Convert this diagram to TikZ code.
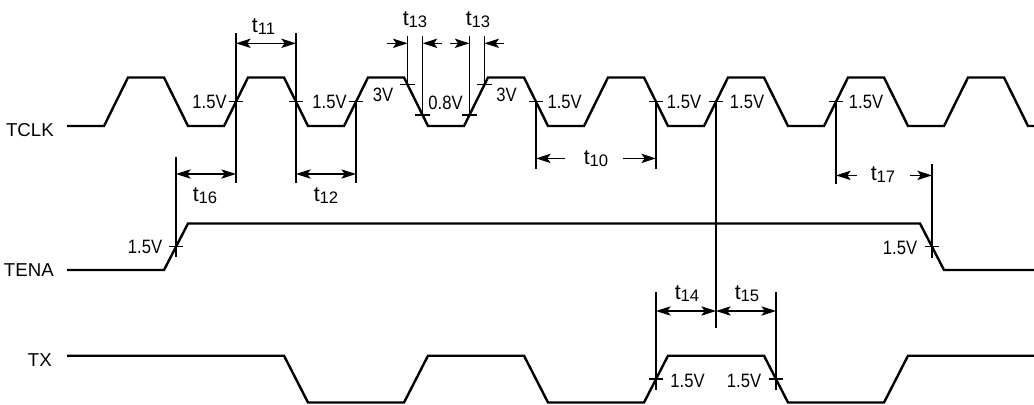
\documentclass[tikz,border=0pt]{standalone}
\usepackage{fontspec}
\setmainfont{Liberation Sans}
\newfontfamily\lblfont[FakeStretch=0.86]{Liberation Sans}
\usetikzlibrary{arrows.meta}
\newcommand{\tlab}[1]{{\fontsize{16}{18}\selectfont t}\raisebox{-1.5pt}{\fontsize{12.5}{14}\selectfont #1}}
\tikzset{
  wave/.style={line width=1.8pt, line join=miter},
  ext/.style={line width=0.8pt},
  tick/.style={line width=0.8pt},
  ah/.tip={Stealth[length=11pt,width=7pt,inset=2.5pt]},
  dimboth/.style={line width=0.8pt, {ah}-{ah}},
  dimone/.style={line width=0.8pt, -{ah}},
  sig/.style={font=\fontsize{14}{16}\selectfont, anchor=base east, inner sep=0pt},
  volt/.style={font=\lblfont\fontsize{14.5}{16}\selectfont, inner sep=0pt},
  tname/.style={inner sep=0pt},
}
\begin{document}
\begin{tikzpicture}[x=0.75pt,y=-0.75pt]
\useasboundingbox (0,0) rectangle (1034,404);
% ---------- signal names
\node[sig] (nclk) at (54,136) {TCLK};
\node[sig] (nena) at (54,276.7) {TENA};
\node[sig] (ntx) at (52,366.7) {TX};
% ---------- waveforms
\draw[wave] (67,126) -- (104,126) -- (128,77.5) -- (164,77.5) -- (188,126) -- (224,126)
  -- (248,77.5) -- (284,77.5) -- (308,126) -- (344,126) -- (368,77.5) -- (404,77.5)
  -- (428,126) -- (464,126) -- (488,77.5) -- (524,77.5) -- (548,126) -- (584,126)
  -- (608,77.5) -- (644,77.5) -- (668,126) -- (704,126) -- (728,77.5) -- (764,77.5)
  -- (788,126) -- (824,126) -- (848,77.5) -- (884,77.5) -- (908,126) -- (944,126)
  -- (968,77.5) -- (1004,77.5) -- (1028,126) -- (1036,126);
\draw[wave] (67,270) -- (164,270) -- (188,223.5) -- (920,223.5) -- (944,270) -- (1036,270);
\draw[wave] (67,355.7) -- (284,355.7) -- (308,402.5) -- (404,402.5) -- (428,355.7)
  -- (524,355.7) -- (548,402.5) -- (644,402.5) -- (668,355.7) -- (764,355.7)
  -- (788,402.5) -- (884,402.5) -- (908,355.7) -- (1036,355.7);
% ---------- crossing points
\coordinate (c1) at (236,101.75);
\coordinate (c2) at (296,101.75);
\coordinate (c3) at (356,101.75);
\coordinate (h1) at (407.6,84.3);
\coordinate (l1) at (422.6,115);
\coordinate (l2) at (469.4,115);
\coordinate (h2) at (484.4,84.3);
\coordinate (c4) at (536,101.75);
\coordinate (c5) at (656,101.75);
\coordinate (c6) at (716,101.75);
\coordinate (c7) at (836,101.75);
\coordinate (e1) at (176,246.75);
\coordinate (e2) at (932,246.75);
\coordinate (x1) at (656,379);
\coordinate (x2) at (776,379);
\foreach \p in {c1,c2,c3,h1,l1,l2,h2,c4,c5,c6,c7,e1,e2,x1,x2}
  \draw[tick] ([xshift=-5.5pt]\p) -- ([xshift=5.5pt]\p);
% ---------- extension lines
\coordinate (c1t) at (236,33);   \coordinate (c1b) at (236,183);
\coordinate (c2t) at (296,33);   \coordinate (c2b) at (296,183);
\coordinate (c3b) at (356,183);
\coordinate (e1t) at (176,157);  \coordinate (e1b) at (176,257);
\coordinate (h1t) at (407.6,36); \coordinate (l1t) at (422.6,36);
\coordinate (l2t) at (469.4,36); \coordinate (h2t) at (484.4,36);
\coordinate (c4b) at (536,168.6); \coordinate (c5b) at (656,168.6);
\coordinate (c6b) at (716,328);
\coordinate (c7b) at (836,184);
\coordinate (e2t) at (932,163.5); \coordinate (e2b) at (932,257.7);
\coordinate (x1t) at (656,292.4); \coordinate (x1b) at (656,389.5);
\coordinate (x2t) at (776,292.4); \coordinate (x2b) at (776,389.5);
\draw[ext] (c1t) -- (c1b);
\draw[ext] (c2t) -- (c2b);
\draw[ext] (c3) -- (c3b);
\draw[ext] (e1t) -- (e1b);
\draw[ext] (h1t) -- (h1);
\draw[ext] (l1t) -- (l1);
\draw[ext] (l2t) -- (l2);
\draw[ext] (h2t) -- (h2);
\draw[ext] (c4) -- (c4b);
\draw[ext] (c5) -- (c5b);
\draw[ext] (c6) -- (c6b);
\draw[ext] (c7) -- (c7b);
\draw[ext] (e2t) -- (e2b);
\draw[ext] (x1t) -- (x1b);
\draw[ext] (x2t) -- (x2b);
% ---------- dimension arrows
\draw[dimboth] (236,43.3) -- (296,43.3);
\draw[dimboth] (176,174) -- (236,174);
\draw[dimboth] (296,174) -- (356,174);
\draw[dimone] (387,43.3) -- (407.6,43.3);
\draw[dimone] (442,43.3) -- (422.6,43.3);
\draw[dimone] (450,43.3) -- (469.4,43.3);
\draw[dimone] (504,43.3) -- (484.4,43.3);
\draw[dimone] (565,158.4) -- (536,158.4);
\draw[dimone] (622.6,158.4) -- (656,158.4);
\draw[dimone] (857,175.4) -- (836,175.4);
\draw[dimone] (910.4,175.4) -- (932,175.4);
\draw[dimboth] (656,311) -- (716,311);
\draw[dimboth] (716,311) -- (776,311);
% ---------- timing labels
\node[tname] (t11) at (263.5,27) {\tlab{11}};
\node[tname] (t13a) at (415,20) {\tlab{13}};
\node[tname] (t13b) at (478,20) {\tlab{13}};
\node[tname] (t16) at (205,196) {\tlab{16}};
\node[tname] (t12) at (326,196) {\tlab{12}};
\node[tname] (t10) at (596,159) {\tlab{10}};
\node[tname] (t17) at (883,175) {\tlab{17}};
\node[tname] (t14) at (687,294) {\tlab{14}};
\node[tname] (t15) at (747,294) {\tlab{15}};
% ---------- voltage labels
\node[volt] (v1) at (209.5,102) {1.5V};
\node[volt] (v2) at (329.5,102) {1.5V};
\node[volt] (v3) at (383,95) {3V};
\node[volt] (v4) at (445.5,102.5) {0.8V};
\node[volt] (v5) at (506.5,95) {3V};
\node[volt] (v6) at (564.7,102) {1.5V};
\node[volt] (v7) at (684,102) {1.5V};
\node[volt] (v8) at (747,102) {1.5V};
\node[volt] (v9) at (866,102) {1.5V};
\node[volt] (v10) at (145,247) {1.5V};
\node[volt] (v11) at (900,247.5) {1.5V};
\node[volt] (v12) at (687.5,381) {1.5V};
\node[volt] (v13) at (744,381) {1.5V};
\end{tikzpicture}
\end{document}
